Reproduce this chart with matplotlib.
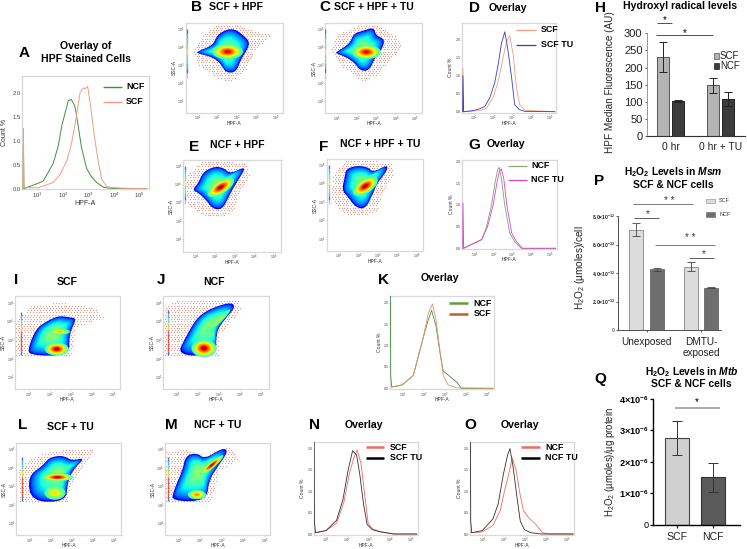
import numpy as np
import matplotlib
matplotlib.use('Agg')
import matplotlib.pyplot as plt
from matplotlib.patches import Polygon, Ellipse
from matplotlib.path import Path

plt.rcParams['font.family'] = ['Liberation Sans', 'DejaVu Sans']
plt.rcParams['mathtext.fontset'] = 'custom'
plt.rcParams['mathtext.rm'] = 'Liberation Sans'
plt.rcParams['mathtext.it'] = 'Liberation Sans:italic'
plt.rcParams['mathtext.bf'] = 'Liberation Sans:bold'
plt.rcParams['mathtext.bfit'] = 'Liberation Sans:italic:bold'

W, H = 747, 549
GREY = '#d8d8d8'
jet = plt.get_cmap('jet')

# ---- histogramas (log10 HPF-A, Count %) ----
a_ncf_x = [0.43, 0.44, 0.46, 0.70, 1.0, 1.22, 1.42, 1.61, 1.81, 1.94, 2.07, 2.2, 2.31, 2.46, 2.59, 2.72, 2.92, 3.12, 3.31, 3.58, 3.84, 5.27]
a_ncf_y = [0.0, 0.9, 0.0, 0.05, 0.11, 0.16, 0.35, 0.53, 0.9, 1.3, 1.57, 1.83, 1.86, 1.72, 1.3, 0.85, 0.42, 0.24, 0.13, 0.03, 0.01, 0.0]
a_scf_x = [0.43, 0.44, 0.46, 1.0, 1.35, 1.61, 1.88, 2.14, 2.33, 2.5, 2.66, 2.79, 2.86, 2.96, 3.08, 3.22, 3.38, 3.51, 3.71, 4.23, 5.27]
a_scf_y = [0.0, 1.25, 0.02, 0.02, 0.08, 0.13, 0.3, 0.58, 0.95, 1.45, 2.0, 2.1, 2.08, 2.13, 1.7, 1.1, 0.55, 0.2, 0.04, 0.01, 0.0]

d_scf_x = [0.4, 0.41, 0.45, 1.3, 1.67, 2.02, 2.29, 2.55, 2.73, 2.9, 3.08, 3.26, 3.43, 3.7, 5.3]
d_scf_y = [0.0, 1.2, 0.0, 0.03, 0.1, 0.4, 0.85, 1.5, 1.95, 2.1, 1.6, 0.65, 0.2, 0.04, 0.0]
d_tu_x = [0.4, 0.41, 0.45, 0.96, 1.3, 1.58, 1.85, 2.1, 2.3, 2.46, 2.64, 2.78, 3.0, 3.16, 3.4, 3.7, 5.3]
d_tu_y = [0.0, 1.0, 0.0, 0.03, 0.08, 0.15, 0.4, 0.8, 1.35, 1.9, 2.22, 1.8, 0.95, 0.2, 0.06, 0.01, 0.0]

g_ncf_x = [0.42, 1.0, 1.39, 1.65, 1.91, 2.09, 2.23, 2.32, 2.44, 2.61, 2.88, 3.14, 3.49, 5.3]
g_ncf_y = [0.0, 0.12, 0.2, 0.5, 1.0, 1.5, 1.8, 1.87, 1.6, 1.0, 0.35, 0.15, 0.0, 0.0]
g_tu_x = [0.39, 0.4, 0.44, 1.0, 1.39, 1.7, 2.0, 2.19, 2.33, 2.44, 2.56, 2.72, 2.98, 3.24, 3.55, 5.3]
g_tu_y = [0.0, 1.05, 0.0, 0.12, 0.2, 0.5, 1.0, 1.5, 1.78, 1.83, 1.6, 1.0, 0.35, 0.15, 0.0, 0.0]

k_scf_x = [0.5, 1.0, 1.52, 2.0, 2.23, 2.43, 2.6, 2.78, 2.94, 3.17, 3.57, 5.3]
k_scf_y = [0.03, 0.08, 0.3, 1.2, 1.75, 1.97, 1.6, 0.9, 0.3, 0.08, 0.01, 0.0]
k_ncf_x = [0.44, 0.45, 0.5, 1.0, 1.52, 2.0, 2.23, 2.39, 2.6, 2.78, 2.94, 3.25, 3.57, 3.8, 5.3]
k_ncf_y = [2.2, 0.3, 0.03, 0.08, 0.3, 1.2, 1.6, 1.82, 1.45, 0.85, 0.4, 0.28, 0.15, 0.0, 0.0]

n_scf_x = [0.46, 0.5, 1.0, 1.5, 1.85, 2.1, 2.3, 2.48, 2.66, 2.85, 3.0, 3.2, 3.6, 4.2, 5.3]
n_scf_y = [0.05, 0.03, 0.08, 0.25, 0.75, 1.4, 1.75, 1.97, 1.65, 0.85, 0.25, 0.12, 0.05, 0.0, 0.0]
n_tu_x = [0.44, 0.45, 0.5, 1.0, 1.5, 1.8, 2.05, 2.26, 2.45, 2.6, 2.78, 2.95, 3.2, 3.6, 4.2, 5.3]
n_tu_y = [2.2, 0.3, 0.03, 0.08, 0.32, 0.8, 1.5, 1.95, 1.85, 1.4, 0.7, 0.22, 0.1, 0.05, 0.0, 0.0]

o_ncf_x = [0.46, 0.5, 1.0, 1.5, 1.85, 2.05, 2.25, 2.42, 2.6, 2.78, 2.95, 3.2, 3.55, 3.85, 4.2, 5.3]
o_ncf_y = [0.05, 0.03, 0.05, 0.2, 0.55, 1.0, 1.4, 1.78, 1.5, 0.95, 0.55, 0.38, 0.22, 0.03, 0.0, 0.0]
o_tu_x = [0.44, 0.45, 0.5, 1.0, 1.5, 1.75, 2.0, 2.2, 2.31, 2.45, 2.62, 2.8, 3.0, 3.3, 3.8, 5.3]
o_tu_y = [2.2, 0.3, 0.03, 0.08, 0.35, 0.7, 1.4, 1.85, 2.0, 1.6, 0.95, 0.3, 0.1, 0.03, 0.0, 0.0]

# ---- contornos de los dot plots (log10 HPF-A, log10 SSC-A) ----
b_out = [(1.0,3.76),(1.82,4.13),(1.99,4.65),(2.5,5.0),(2.93,5.0),(3.27,4.75),(3.7,4.31),(3.55,3.85),(3.27,3.39),(2.98,2.6),(2.45,2.6),(2.25,3.02),(1.82,3.44),(1.0,3.67)]
b_dots = [(0.8,3.8),(1.2,4.6),(2.0,5.25),(3.0,5.3),(3.9,4.9),(4.8,4.7),(3.9,3.8),(3.5,2.8),(2.7,2.1),(2.0,2.3),(1.0,3.1)]
c_out = [(0.95,3.72),(1.67,4.22),(1.84,4.75),(2.35,4.93),(2.9,5.1),(3.0,4.65),(3.45,4.45),(3.33,3.94),(2.98,3.48),(2.65,2.7),(2.2,2.7),(1.92,3.11),(1.5,3.44),(0.95,3.67)]
c_dots = [(0.7,3.8),(1.0,4.7),(2.0,5.2),(3.0,5.3),(3.9,4.7),(4.4,4.1),(3.6,3.2),(3.0,2.4),(2.3,2.15),(1.3,2.9)]
e_out = [(0.85,3.67),(1.15,4.04),(1.38,4.62),(1.92,4.95),(2.44,4.9),(2.79,4.55),(3.55,4.95),(3.42,4.58),(2.98,3.85),(2.72,3.31),(2.38,2.6),(1.88,2.65),(1.55,3.13),(1.15,3.53)]
e_dots = [(0.5,3.4),(0.6,4.5),(1.3,5.2),(2.6,5.25),(3.6,5.1),(3.8,4.5),(3.2,3.4),(2.9,2.5),(2.2,2.2),(1.3,2.35),(0.7,2.8)]
f_out = [(1.15,3.64),(1.3,4.36),(1.36,4.78),(1.91,4.97),(2.5,4.88),(2.76,4.6),(3.52,5.02),(3.45,4.64),(2.96,4.0),(2.72,3.36),(2.36,2.62),(1.88,2.68),(1.45,3.27)]
f_dots = [(0.6,3.4),(0.7,4.5),(1.3,5.2),(2.6,5.25),(3.7,5.1),(3.8,4.5),(3.2,3.4),(2.9,2.5),(2.2,2.2),(1.3,2.35),(0.8,2.8)]
i_out = [(1.0,2.16),(0.98,2.63),(1.33,3.58),(1.76,3.95),(2.4,4.3),(2.9,4.22),(3.28,4.15),(2.92,3.35),(2.92,2.16)]
i_dots = [(0.38,2.2),(0.38,3.9),(1.0,4.85),(2.48,5.0),(4.0,4.8),(4.6,4.2),(3.19,3.7),(3.0,2.15)]
j_out = [(1.0,2.16),(1.44,3.17),(1.92,4.12),(2.43,4.58),(3.22,4.93),(3.68,4.98),(3.76,4.7),(3.26,4.07),(2.88,3.44),(2.88,2.16)]
j_dots = [(0.38,2.15),(0.38,4.8),(1.0,5.1),(2.75,5.1),(3.9,5.2),(4.1,4.7),(3.0,3.3),(3.0,2.15)]
l_out = [(1.08,2.17),(0.9,3.52),(1.62,4.12),(1.95,4.57),(2.6,4.67),(3.0,4.38),(3.65,4.55),(3.05,3.88),(2.8,3.16),(2.72,2.17)]
l_dots = [(0.55,2.2),(0.45,3.9),(1.0,4.55),(2.13,4.95),(4.1,5.0),(3.7,4.35),(2.95,3.16),(2.8,2.17)]
m_out = [(0.66,2.2),(0.78,2.8),(1.18,3.88),(1.33,4.66),(1.84,4.8),(2.23,4.48),(3.05,5.08),(3.32,4.9),(2.82,4.06),(2.43,3.34),(2.28,2.2)]
m_dots = [(0.38,2.2),(0.38,4.9),(1.37,5.0),(2.23,4.65),(3.4,5.2),(3.8,4.5),(2.9,3.85),(2.5,2.2)]

# ---- barras ----
h_groups = ['0 hr', '0 hr + TU']
h_scf = [232, 148]
h_ncf = [103, 108]
h_scf_lo, h_scf_hi = [44, 22], [44, 23]
h_ncf_lo, h_ncf_hi = [4, 20], [4, 21]
h_ticks = [0, 50, 100, 150, 200, 250, 300]

p_groups = ['Unexposed', 'DMTU-\nexposed']
p_scf = [7.05, 4.45]
p_ncf = [4.26, 2.98]
p_scf_err = [0.47, 0.33]
p_ncf_err = [0.1, 0.02]
p_ticks = [0, 2, 4, 6, 8]
p_ticklabels = ['0', r'$\mathbf{2.0{\times}10^{-12}}$', r'$\mathbf{4.0{\times}10^{-12}}$', r'$\mathbf{6.0{\times}10^{-12}}$', r'$\mathbf{8.0{\times}10^{-12}}$']

q_groups = ['SCF', 'NCF']
q_vals = [2.74, 1.5]
q_lo, q_hi = [0.54, 0.47], [0.54, 0.47]
q_ticks = [0, 1, 2, 3, 4]
q_ticklabels = ['0', r'$\mathbf{1{\times}10^{-6}}$', r'$\mathbf{2{\times}10^{-6}}$', r'$\mathbf{3{\times}10^{-6}}$', r'$\mathbf{4{\times}10^{-6}}$']

dec_labels = [r'$10^{%d}$' % i for i in range(1, 6)]

fig = plt.figure(figsize=(W / 100, H / 100), dpi=100)


def T(x, y, s, size=7.6, weight='bold', ha='center', color='black', **kw):
    return fig.text(x / W, 1 - y / H, s, fontsize=size, fontweight=weight, ha=ha, va='center', color=color, **kw)


def L(x0, x1, y0, y1, color='black', lw=1.0):
    fig.add_artist(plt.Line2D([x0 / W, x1 / W], [1 - y0 / H, 1 - y1 / H], color=color, lw=lw, solid_capstyle='butt'))


def add_ax(x0, x1, y0, y1):
    return fig.add_axes([x0 / W, 1 - y1 / H, (x1 - x0) / W, (y1 - y0) / H])


def style_small(ax, box, tick_size=2.6, label_size=3.6, xoff=10.5, yoff=11.5):
    x0, x1, y0, y1 = box
    for s in ax.spines.values():
        s.set_color(GREY)
        s.set_linewidth(0.9)
    ax.set_xticks([1, 2, 3, 4, 5], dec_labels)
    ax.tick_params(labelsize=tick_size, length=0.6, width=0.3, pad=0.2, colors='#444444')
    ax.set_xlabel('HPF-A', fontsize=label_size, color='#333333', va='center')
    ax.xaxis.set_label_coords(0.5, -xoff / (y1 - y0))
    ax.yaxis.set_label_coords(-yoff / (x1 - x0), 0.5)


def smooth(pts, n=2):
    # recorta las esquinas del contorno
    pts = np.array(pts, dtype=float)
    for _ in range(n):
        nxt = np.roll(pts, -1, axis=0)
        pts = np.column_stack([0.75 * pts + 0.25 * nxt, 0.25 * pts + 0.75 * nxt]).reshape(-1, 2)
    return pts


def flow(box, xt, dx, yt, dy, outline, dots, hots, strip):
    x0, x1, y0, y1 = box
    ax = add_ax(x0, x1, y0, y1)
    xmin, xmax = 1 + (x0 - xt) / dx, 1 + (x1 - xt) / dx
    ax.set_xlim(xmin, xmax)
    ax.set_ylim(5 - (y1 - yt) / dy, 5 - (y0 - yt) / dy)
    style_small(ax, box)
    ax.set_yticks([1, 2, 3, 4, 5], dec_labels)
    ax.set_ylabel('SSC-A', fontsize=3.6, color='#333333', va='center')

    # puntitos sueltos alrededor de la nube
    gx, gy = np.meshgrid(np.arange(xmin, xmax, 0.14), np.arange(1.0, 5.4, 0.12))
    gx[::2] += 0.07
    pts = np.column_stack([gx.ravel(), gy.ravel()])
    pts = pts[Path(dots).contains_points(pts)]
    ax.scatter(pts[:, 0], pts[:, 1], s=0.9, color='#dca090', linewidths=0, zorder=1)

    # capas de la nube, del azul hacia el verde
    outline = smooth(outline)
    cen = outline.mean(axis=0)
    for i in range(16):
        t = i / 16
        ax.add_patch(Polygon(cen + (outline - cen) * (1 - 0.85 * t), closed=True,
                             fc=jet(0.11 + 0.42 * t ** 0.6), ec='none', zorder=2))
    # zonas calientes
    for cx, cy, w, h, ang, top in hots:
        for i in range(12):
            t = i / 12
            ax.add_patch(Ellipse((cx, cy), w * (1 - 0.9 * t), h * (1 - 0.9 * t), angle=ang,
                                 fc=jet(0.42 + (top - 0.42) * t), ec='none', zorder=3))
    # tira de colores de la izquierda
    sx, ytop, ybot, cols = strip
    edges = np.linspace(ytop, ybot, len(cols) + 1)
    for j, c in enumerate(cols):
        ax.plot([sx, sx], [edges[j], edges[j + 1]], color=c, lw=1.0, solid_capstyle='butt', zorder=4)
    return ax


def hist(box, xt, dx, y0px, px_per_half, curves, tick_size=2.6, label_size=3.6, lw=0.6, xoff=10.5, yoff=11):
    x0, x1, y0, y1 = box
    ax = add_ax(x0, x1, y0, y1)
    ax.set_xlim(1 + (x0 - xt) / dx, 1 + (x1 - xt) / dx)
    ax.set_ylim((y0px - y1) / px_per_half * 0.5, (y0px - y0) / px_per_half * 0.5)
    style_small(ax, box, tick_size, label_size, xoff, yoff)
    ax.set_yticks([0, 0.5, 1.0, 1.5, 2.0], ['0.0', '0.5', '1.0', '1.5', '2.0'])
    ax.set_ylabel('Count %', fontsize=label_size, color='#333333', va='center')
    for cx, cy, col in curves:
        ax.plot(cx, cy, color=col, lw=lw, zorder=3)
    return ax


rainbow = ['#5070f0', '#50b0f0', '#60e0c0', '#80e080', '#f0e060', '#80e080', '#60e0c0', '#50b0f0', '#5070f0', '#f0b0b0']
rainbow2 = ['#5070f0', '#50b0f0', '#60e0c0', '#b0e060', '#f0d060', '#e86050', '#d85040', '#d85040', '#d85040', '#d85040', '#5070c0']

# A
GR, OR, BL, MG, RD = '#3f9040', '#f29c80', '#3040c8', '#e040d0', '#f06a60'
hist((22, 148.7, 76.3, 189.3), 37.7, 25.5, 188.7, 24, [(a_ncf_x, a_ncf_y, GR), (a_scf_x, a_scf_y, OR)], 4.2, 5.0, 0.7, 14.5, 17)
T(24, 52.7, 'A', 11)
T(86, 45.7, 'Overlay of')
T(86, 58.7, 'HPF Stained Cells')
L(103.3, 121.7, 86.7, 86.7, GR, 1)
L(103.3, 121.7, 102, 102, OR, 1)
T(126, 86.7, 'NCF', 6.4, ha='left')
T(126, 102, 'SCF', 6.4, ha='left')

# B C E F
flow((185.6, 282.7, 22.7, 113), 197.3, 19.5, 29.3, 18, b_out, b_dots, [(2.55, 3.76, 1.6, 0.85, 0, 0.95)], (0.47, 5.0, 2.3, rainbow))
T(196.7, 7.3, 'B', 11)
T(235.7, 6.7, 'SCF + HPF')
flow((325.3, 422.3, 22.7, 113.3), 337, 19.5, 29.3, 18, c_out, c_dots, [(2.5, 3.74, 1.5, 0.8, 0, 0.95)], (0.4, 5.0, 2.3, rainbow))
T(325, 7.3, 'C', 11)
T(374, 7, 'SCF + HPF + TU')
flow((183, 280.7, 160.3, 251.7), 195.3, 19.5, 165.7, 18.3, e_out, e_dots, [(2.3, 3.82, 1.6, 0.7, 35, 1.0)], (0.45, 5.0, 2.9, rainbow))
T(194, 146.7, 'E', 11)
T(237.7, 145, 'NCF + HPF')
flow((326.7, 423.3, 159.3, 250.7), 339, 19.4, 165, 18.4, f_out, f_dots, [(2.35, 3.85, 1.5, 0.75, 35, 1.0)], (0.5, 5.0, 2.9, rainbow))
T(324, 146.7, 'F', 11)
T(380, 144, 'NCF + HPF + TU')

# D G
hist((462, 556, 22.7, 112.7), 474, 18.8, 111.7, 18, [(d_scf_x, d_scf_y, OR), (d_tu_x, d_tu_y, BL)])
T(475, 8, 'D', 11)
T(508, 7.7, 'Overlay')
L(516, 536, 30, 30, OR, 0.9)
L(516, 536, 44.7, 44.7, BL, 0.9)
T(541, 30, 'SCF', 6.4, ha='left')
T(541, 44.7, 'SCF TU', 6.4, ha='left')

hist((462.3, 556.7, 160, 249.3), 474.3, 18.9, 248.3, 21.65, [(g_ncf_x, g_ncf_y, '#7f9f70'), (g_tu_x, g_tu_y, MG)])
T(474, 145, 'G', 11)
T(506, 144, 'Overlay')
L(508.3, 526.7, 165.7, 165.7, '#8aa878', 0.9)
L(508.3, 526.7, 179.7, 179.7, MG, 0.9)
T(531.3, 165.7, 'NCF', 6.4, ha='left')
T(531.3, 179.7, 'NCF TU', 6.4, ha='left')

# I J L M
flow((15, 120, 296, 389.3), 29, 21, 302.7, 18.6, i_out, i_dots,
     [(2.32, 2.51, 1.15, 0.7, 0, 1.0), (2.44, 3.44, 1.05, 0.3, 0, 0.75)], (0.62, 4.5, 2.2, rainbow2))
T(15.7, 280, 'I', 11)
T(67.3, 282.3, 'SCF')
flow((163.3, 268.7, 296, 389.3), 176.7, 21, 302.7, 18.6, j_out, j_dots,
     [(2.3, 2.55, 1.2, 0.95, 0, 1.0), (2.95, 4.0, 1.7, 0.28, 47, 0.6)], (0.58, 4.6, 2.2, rainbow2))
T(161, 280, 'J', 11)
T(214, 282, 'NCF')
flow((16, 121.3, 442.7, 535.3), 29.7, 21, 449.3, 18.5, l_out, l_dots,
     [(2.2, 2.65, 1.0, 0.75, 0, 0.7), (2.32, 3.49, 1.5, 0.42, 0, 1.0)], (0.62, 4.6, 2.2, rainbow2))
T(22.3, 425, 'L', 11)
T(70.3, 426.7, 'SCF + TU')
flow((165, 270.3, 442.7, 535.3), 178.7, 21.4, 449.3, 18.5, m_out, m_dots,
     [(1.85, 2.55, 0.85, 0.5, 0, 0.8), (2.55, 4.15, 1.5, 0.3, 45, 1.0)], (0.52, 4.6, 2.2, rainbow2))
T(171.3, 425, 'M', 11)
T(217.7, 425, 'NCF + TU')

# K N O
hist((390.3, 494, 296, 389.3), 402.3, 21.1, 388.3, 21.4, [(k_ncf_x, k_ncf_y, GR), (k_scf_x, k_scf_y, '#e8906a')])
T(383.3, 280, 'K', 11)
T(440, 278.3, 'Overlay')
L(449.3, 467.7, 303, 303, '#5fa040', 1.8)
L(449.3, 467.7, 314, 314, '#c0602a', 1.8)
T(473.7, 303, 'NCF', 6.4, ha='left')
T(473.7, 314, 'SCF', 6.4, ha='left')

hist((314, 418.3, 442, 535), 326, 21.1, 534, 21.35, [(n_scf_x, n_scf_y, RD), (n_tu_x, n_tu_y, '#303030')])
T(314.3, 425, 'N', 11)
T(364, 424.7, 'Overlay')
L(365.7, 384, 447, 447, RD, 1.8)
L(365.7, 384, 457.7, 457.7, 'black', 1.8)
T(389.7, 447, 'SCF', 6.4, ha='left')
T(389.7, 457.7, 'SCF TU', 6.4, ha='left')

hist((470, 574.3, 442, 535), 482.3, 21.1, 534, 21.35, [(o_ncf_x, o_ncf_y, RD), (o_tu_x, o_tu_y, '#303030')])
T(470, 425, 'O', 11)
T(520.3, 424.7, 'Overlay')
L(521, 540, 447, 447, RD, 1.8)
L(521, 540, 457.7, 457.7, 'black', 1.8)
T(545, 447, 'NCF', 6.4, ha='left')
T(545, 457.7, 'NCF TU', 6.4, ha='left')


def bar_axes(x0, x1, y_zero, y_top, top_val, cat0_px, cat_step):
    ax = add_ax(x0, x1, y_top, y_zero)
    ax.set_xlim((x0 - cat0_px) / cat_step, (x1 - cat0_px) / cat_step)
    ax.set_ylim(0, top_val)
    ax.patch.set_alpha(0)
    ax.spines['top'].set_visible(False)
    ax.spines['right'].set_visible(False)
    return ax


# H
axh = bar_axes(646.7, 745, 136.3, 33.3, 300, 670.7, 50)
pos = np.arange(len(h_groups))
axh.bar(pos - 0.147, h_scf, 0.24, color='#b4b4b4', edgecolor='#555555', linewidth=0.7)
axh.bar(pos + 0.147, h_ncf, 0.24, color='#3c3c3c', edgecolor='#222222', linewidth=0.7)
axh.errorbar(pos - 0.147, h_scf, yerr=[h_scf_lo, h_scf_hi], fmt='none', ecolor='#222222', elinewidth=0.7, capsize=2.8, capthick=0.7)
axh.errorbar(pos + 0.147, h_ncf, yerr=[h_ncf_lo, h_ncf_hi], fmt='none', ecolor='#222222', elinewidth=0.7, capsize=2.8, capthick=0.7)
axh.set_xticks(pos, h_groups)
axh.set_yticks(h_ticks)
axh.tick_params(axis='x', length=0, labelsize=7.4, pad=4, colors='#222222')
axh.tick_params(axis='y', length=1.5, width=0.5, labelsize=8, pad=1.5, colors='#222222')
axh.spines['left'].set_color('#888888')
axh.spines['left'].set_linewidth(0.6)
axh.spines['bottom'].set_color('#333333')
T(600, 8.3, 'H', 11)
T(680, 5.7, 'Hydroxyl radical levels', 7.6)
T(610, 82, 'HPF Median Fluorescence (AU)', 7.2, 'normal', rotation=90, color='#222222')
L(657, 672, 23.3, 23.3, '#333333', 0.6)
L(656, 713.3, 35, 35, '#333333', 0.6)
T(664.7, 20.5, '*', 7, 'normal')
T(685, 33, '*', 7, 'normal')
fig.patches.append(plt.Rectangle((713.5 / W, 1 - 59 / H), 5 / W, 5.5 / H, transform=fig.transFigure, fc='#b4b4b4', ec='#555555', lw=0.5))
fig.patches.append(plt.Rectangle((713.5 / W, 1 - 69 / H), 5 / W, 5.5 / H, transform=fig.transFigure, fc='#3c3c3c', ec='#222222', lw=0.5))
T(720, 56.3, 'SCF', 7, 'normal', ha='left', color='#222222')
T(720, 66.3, 'NCF', 7, 'normal', ha='left', color='#222222')

# P
axp = bar_axes(618.3, 721, 330.3, 216, 8, 646.5, 54.5)
pos = np.arange(len(p_groups))
axp.bar(pos - 0.187, p_scf, 0.25, color='#dcdcdc', edgecolor='#888888', linewidth=0.6)
axp.bar(pos + 0.187, p_ncf, 0.25, color='#6e6e6e', edgecolor='#666666', linewidth=0.6)
axp.errorbar(pos - 0.187, p_scf, yerr=p_scf_err, fmt='none', ecolor='#444444', elinewidth=0.6, capsize=2.6, capthick=0.6)
axp.errorbar(pos + 0.187, p_ncf, yerr=p_ncf_err, fmt='none', ecolor='#444444', elinewidth=0.6, capsize=2.6, capthick=0.6)
axp.set_xticks(pos, p_groups)
axp.set_yticks(p_ticks, p_ticklabels)
axp.tick_params(axis='x', length=1.5, width=0.5, labelsize=7.2, pad=3, colors='#222222')
axp.tick_params(axis='y', length=1.5, width=0.5, labelsize=3.6, pad=1, colors='#222222')
for s in ['left', 'bottom']:
    axp.spines[s].set_linewidth(0.6)
    axp.spines[s].set_color('#333333')
T(599, 180.7, 'P', 11)
T(673, 171.7, r'$\mathbf{H_2O_2}$ Levels in $\mathbfit{Msm}$', 7.4)
T(673, 185, 'SCF & NCF cells', 7.4)
T(580, 268, r'$\mathrm{H_2O_2}$ (µmoles)/cell', 7.2, 'normal', rotation=90, color='#222222')
L(632.7, 692.7, 204.3, 204.3, '#666666', 0.6)
L(634.3, 659, 218.3, 218.3, '#444444', 0.6)
L(655, 715, 244.7, 244.7, '#666666', 0.6)
L(689, 714.3, 258.3, 258.3, '#444444', 0.6)
T(669, 200.5, '* *', 7, 'normal', color='#333333')
T(648, 214, '*', 7, 'normal', color='#333333')
T(690.7, 238, '* *', 7, 'normal', color='#333333')
T(703.3, 254, '*', 7, 'normal', color='#333333')
fig.patches.append(plt.Rectangle((706 / W, 1 - 203 / H), 9 / W, 4.5 / H, transform=fig.transFigure, fc='#dcdcdc', ec='#888888', lw=0.4))
fig.patches.append(plt.Rectangle((706 / W, 1 - 217 / H), 9 / W, 4.5 / H, transform=fig.transFigure, fc='#6e6e6e', ec='#666666', lw=0.4))
T(719, 200.7, 'SCF', 4, 'normal', ha='left', color='#333333')
T(719, 214.7, 'NCF', 4, 'normal', ha='left', color='#333333')

# Q
axq = bar_axes(653.3, 740, 524.7, 398.7, 4, 677, 36)
pos = np.arange(len(q_groups))
axq.bar(pos[0], q_vals[0], 0.65, color='#d0d0d0', edgecolor='#444444', linewidth=0.8)
axq.bar(pos[1], q_vals[1], 0.65, color='#5a5a5a', edgecolor='#333333', linewidth=0.8)
axq.errorbar(pos, q_vals, yerr=[q_lo, q_hi], fmt='none', ecolor='#333333', elinewidth=0.7, capsize=3.8, capthick=0.7)
axq.set_xticks(pos, q_groups)
axq.set_yticks(q_ticks, q_ticklabels)
axq.tick_params(axis='x', length=2.5, width=0.9, labelsize=7.6, pad=2.5, colors='#222222')
axq.tick_params(axis='y', length=2.5, width=0.9, labelsize=6.6, pad=1)
for s in ['left', 'bottom']:
    axq.spines[s].set_linewidth(1.0)
T(600, 379, 'Q', 11)
T(691.7, 371.7, r'$\mathbf{H_2O_2}$ Levels in $\mathbfit{Mtb}$', 7.4)
T(691.7, 384.3, 'SCF & NCF cells', 7.4)
T(610, 462, r'$\mathrm{H_2O_2}$ (µmoles)/µg protein', 6.9, 'normal', rotation=90, color='#222222')
L(675, 720, 407.7, 407.7, '#aaaaaa', 1.4)
T(697, 402.5, '*', 7, 'normal')

fig.savefig('out.png', dpi=100)
